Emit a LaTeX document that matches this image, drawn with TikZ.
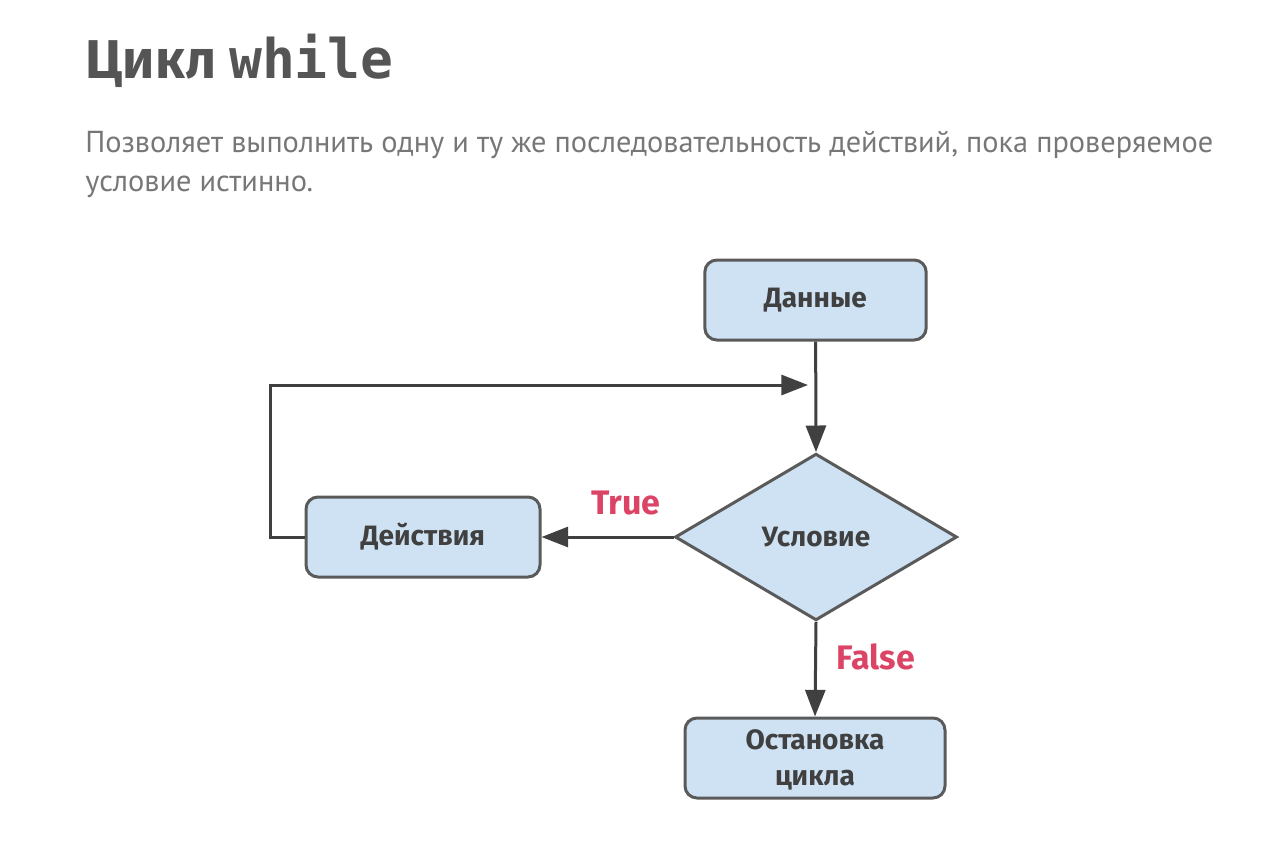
\documentclass[tikz,border=0pt]{standalone}
\usepackage{fontspec}
\setmainfont{Fira Sans}
\newfontfamily\codefont{DejaVu Sans Mono}
\newfontfamily\bodyfont{PT Sans}
\usetikzlibrary{shapes.geometric, arrows.meta}
\definecolor{boxfill}{HTML}{CFE2F3}
\definecolor{boxline}{HTML}{5A5A5A}
\definecolor{inkdark}{HTML}{404040}
\definecolor{titlegrey}{HTML}{555555}
\definecolor{bodygrey}{HTML}{777777}
\definecolor{labelred}{HTML}{DC4466}

\tikzset{
    block/.style={draw=boxline, line width=2.25pt, fill=boxfill, rounded corners=9pt,
        minimum height=60pt, text=inkdark, font=\fontsize{21}{27}\selectfont\bfseries, align=center},
    decision/.style={draw=boxline, line width=2.25pt, fill=boxfill, diamond, aspect=1.69,
        inner sep=0pt, minimum width=211.5pt, minimum height=125pt, text=inkdark,
        font=\fontsize{21}{27}\selectfont\bfseries},
    conn/.style={draw=inkdark, line width=2.25pt, -{Triangle[length=20pt, width=15pt]}},
    branch/.style={text=labelred, font=\fontsize{25.5}{30}\selectfont\bfseries}
}

\begin{document}
\begin{tikzpicture}[x=0.75pt, y=-0.75pt]
        \useasboundingbox (0,0) rectangle (1270,858);

        \node[anchor=base west, text=titlegrey, inner sep=0pt] (title) at (85,78)
            {\fontsize{41}{48}\selectfont\bfseries Цикл {\codefont while}};
        \node[anchor=base west, text=bodygrey, inner sep=0pt,
            font=\bodyfont\fontsize{22.75}{29}\selectfont] (intro) at (85,152)
            {Позволяет выполнить одну и ту же последовательность действий, пока проверяемое};
        \node[anchor=base west, text=bodygrey, inner sep=0pt,
            font=\bodyfont\fontsize{22.75}{29}\selectfont] (intro2) at (85,191)
            {условие истинно.};

        \node[block, minimum width=166pt] (data) at (815.5,300) {Данные};
        \node[decision] (cond) at (816,537) {Условие};
        \node[block, minimum width=175.5pt] (act) at (423,537) {Действия};
        \node[block, minimum width=195pt] (stop) at (815,758) {\rule{0pt}{18pt}Остановка\\цикла};

        \coordinate (loopL) at (270,385);
        \coordinate (loopR) at (808,385);

        \draw[conn] (data) -- (cond.north);
        \draw[conn] (cond.west) -- (act.east);
        \draw[conn] (cond.south) -- (stop.north);
        \draw[conn] (act.west) -| (loopL) -- (loopR);

        \node[branch] (true) at (626,503) {True};
        \node[branch] (false) at (876,657) {False};
    \end{tikzpicture}
\end{document}
